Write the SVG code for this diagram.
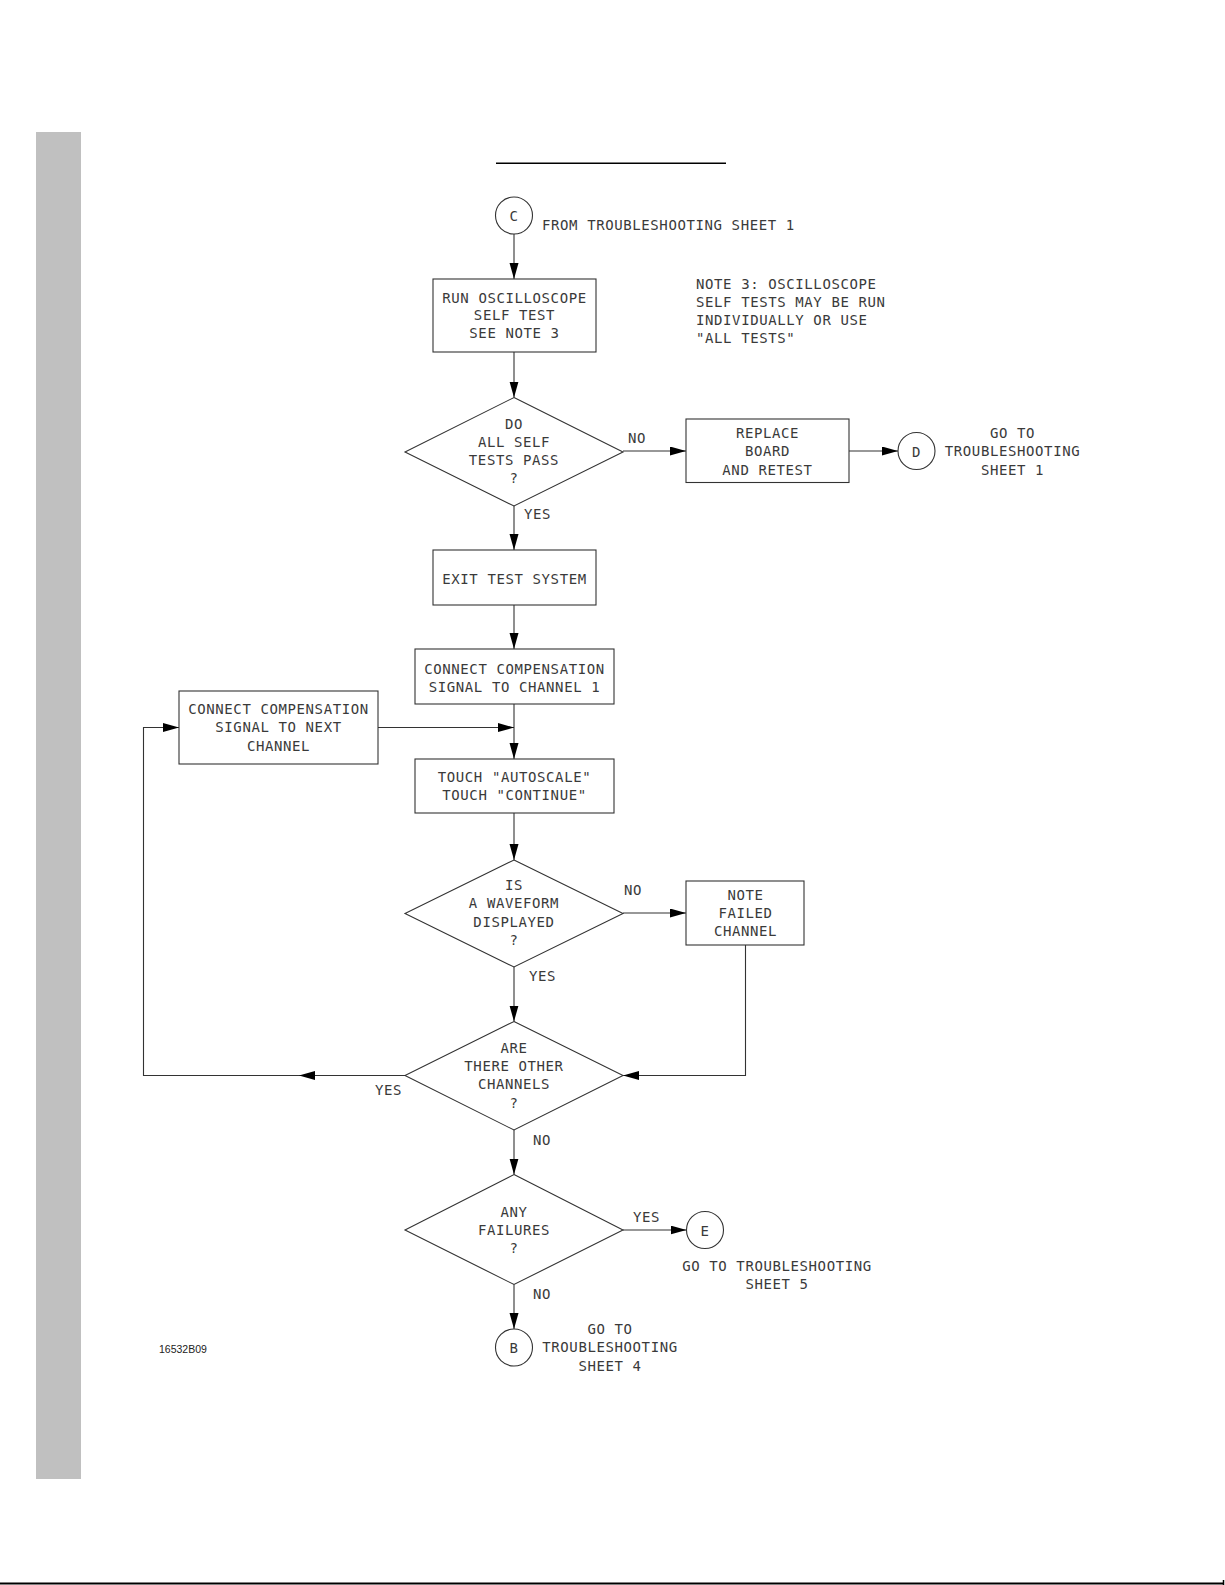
<svg xmlns="http://www.w3.org/2000/svg" width="1225" height="1585" viewBox="0 0 1225 1585">
<style>
.t{font-family:"DejaVu Sans Mono","Liberation Mono",monospace;font-size:14px;letter-spacing:0.6px;fill:#3a3a3a}
.c{text-anchor:middle}
.box{fill:none;stroke:#333;stroke-width:1.1}
.ln{fill:none;stroke:#333;stroke-width:1.1}
.id{font-family:"Liberation Sans",Arial,sans-serif;font-size:10.5px;fill:#222}
</style>
<defs>
<marker id="ah" markerUnits="userSpaceOnUse" markerWidth="17" markerHeight="10" refX="16" refY="4.5" orient="auto">
<path d="M0,0 L16,4.5 L0,9 z" fill="#000"/>
</marker>
</defs>
<rect x="36" y="132" width="45" height="1347" fill="#c0c0c0"/>
<line x1="0" y1="1583.5" x2="1224" y2="1583.5" stroke="#000" stroke-width="2"/>
<line x1="1223.5" y1="1580" x2="1223.5" y2="1585" stroke="#000" stroke-width="1.5"/>
<line x1="496" y1="163.3" x2="726" y2="163.3" stroke="#000" stroke-width="1.4"/>

<g id="connectors">
<line class="ln" x1="514" y1="234" x2="514" y2="279" marker-end="url(#ah)"/>
<line class="ln" x1="514" y1="352" x2="514" y2="397.5" marker-end="url(#ah)"/>
<line class="ln" x1="623" y1="451" x2="686" y2="451" marker-end="url(#ah)"/>
<line class="ln" x1="849" y1="451" x2="898" y2="451" marker-end="url(#ah)"/>
<line class="ln" x1="514" y1="506" x2="514" y2="550" marker-end="url(#ah)"/>
<line class="ln" x1="514" y1="605" x2="514" y2="649" marker-end="url(#ah)"/>
<line class="ln" x1="514" y1="704" x2="514" y2="759" marker-end="url(#ah)"/>
<line class="ln" x1="378" y1="727.5" x2="514" y2="727.5" marker-end="url(#ah)"/>
<line class="ln" x1="514" y1="813" x2="514" y2="860" marker-end="url(#ah)"/>
<line class="ln" x1="623" y1="913" x2="686" y2="913" marker-end="url(#ah)"/>
<line class="ln" x1="514" y1="967" x2="514" y2="1021.5" marker-end="url(#ah)"/>
<polyline class="ln" points="745.5,945 745.5,1075.5 623,1075.5" marker-end="url(#ah)"/>
<line class="ln" x1="405" y1="1075.5" x2="299" y2="1075.5" marker-end="url(#ah)"/>
<polyline class="ln" points="299,1075.5 143.5,1075.5 143.5,727.5 179,727.5" marker-end="url(#ah)"/>
<line class="ln" x1="514" y1="1130" x2="514" y2="1174.5" marker-end="url(#ah)"/>
<line class="ln" x1="623" y1="1230" x2="686.5" y2="1230" marker-end="url(#ah)"/>
<line class="ln" x1="514" y1="1284.5" x2="514" y2="1329" marker-end="url(#ah)"/>
<text class="t" x="628" y="443">NO</text>
<text class="t" x="524" y="519">YES</text>
<text class="t" x="624" y="895">NO</text>
<text class="t" x="529" y="981">YES</text>
<text class="t" x="375" y="1094.5">YES</text>
<text class="t" x="533" y="1145">NO</text>
<text class="t" x="633" y="1222">YES</text>
<text class="t" x="533" y="1299">NO</text>
</g>

<g id="nodeC">
<circle class="box" cx="514" cy="215.5" r="18.5"/>
<text class="t c" x="514" y="221">C</text>
<text class="t" x="542" y="229.5">FROM TROUBLESHOOTING SHEET 1</text>
</g>

<g id="note3">
<text class="t" x="696" y="289">NOTE 3: OSCILLOSCOPE</text>
<text class="t" x="696" y="306.5">SELF TESTS MAY BE RUN</text>
<text class="t" x="696" y="324.5">INDIVIDUALLY OR USE</text>
<text class="t" x="696" y="342.5">"ALL TESTS"</text>
</g>

<g id="runSelfTest">
<rect class="box" x="433" y="279" width="163" height="73"/>
<text class="t c" x="514.5" y="302.5">RUN OSCILLOSCOPE</text>
<text class="t c" x="514.5" y="320">SELF TEST</text>
<text class="t c" x="514.5" y="338">SEE NOTE 3</text>
</g>

<g id="allTestsPass">
<polygon class="box" points="514,397.5 623,452 514,506 405,452"/>
<text class="t c" x="514" y="429">DO</text>
<text class="t c" x="514" y="447">ALL SELF</text>
<text class="t c" x="514" y="465">TESTS PASS</text>
<text class="t c" x="514" y="483">?</text>
</g>

<g id="replaceBoard">
<rect class="box" x="686" y="419" width="163" height="63.5"/>
<text class="t c" x="767.5" y="438">REPLACE</text>
<text class="t c" x="767.5" y="456">BOARD</text>
<text class="t c" x="767.5" y="474.5">AND RETEST</text>
</g>

<g id="nodeD">
<circle class="box" cx="916.5" cy="451" r="18.5"/>
<text class="t c" x="916.5" y="456.5">D</text>
<text class="t c" x="1012.5" y="438">GO TO</text>
<text class="t c" x="1012.5" y="456">TROUBLESHOOTING</text>
<text class="t c" x="1012.5" y="474.5">SHEET 1</text>
</g>

<g id="exitTest">
<rect class="box" x="433" y="550" width="163" height="55"/>
<text class="t c" x="514.5" y="583.5">EXIT TEST SYSTEM</text>
</g>

<g id="connectCh1">
<rect class="box" x="415" y="649" width="199" height="55"/>
<text class="t c" x="514.5" y="673.5">CONNECT COMPENSATION</text>
<text class="t c" x="514.5" y="692">SIGNAL TO CHANNEL 1</text>
</g>

<g id="connectNext">
<rect class="box" x="179" y="691" width="199" height="73"/>
<text class="t c" x="278.5" y="714">CONNECT COMPENSATION</text>
<text class="t c" x="278.5" y="732">SIGNAL TO NEXT</text>
<text class="t c" x="278.5" y="750.5">CHANNEL</text>
</g>

<g id="touchAutoscale">
<rect class="box" x="415" y="759" width="199" height="54"/>
<text class="t c" x="514.5" y="782">TOUCH "AUTOSCALE"</text>
<text class="t c" x="514.5" y="800">TOUCH "CONTINUE"</text>
</g>

<g id="waveformDisplayed">
<polygon class="box" points="514,860 623,913.5 514,967 405,913.5"/>
<text class="t c" x="514" y="890">IS</text>
<text class="t c" x="514" y="908">A WAVEFORM</text>
<text class="t c" x="514" y="926.5">DISPLAYED</text>
<text class="t c" x="514" y="944.5">?</text>
</g>

<g id="noteFailed">
<rect class="box" x="686" y="881" width="118" height="64"/>
<text class="t c" x="745.5" y="900">NOTE</text>
<text class="t c" x="745.5" y="917.5">FAILED</text>
<text class="t c" x="745.5" y="935.5">CHANNEL</text>
</g>

<g id="otherChannels">
<polygon class="box" points="514,1021.5 623,1075.5 514,1130 405,1075.5"/>
<text class="t c" x="514" y="1053">ARE</text>
<text class="t c" x="514" y="1071">THERE OTHER</text>
<text class="t c" x="514" y="1089">CHANNELS</text>
<text class="t c" x="514" y="1107.5">?</text>
</g>

<g id="anyFailures">
<polygon class="box" points="514,1174.5 623,1230 514,1284.5 405,1230"/>
<text class="t c" x="514" y="1217">ANY</text>
<text class="t c" x="514" y="1235">FAILURES</text>
<text class="t c" x="514" y="1253">?</text>
</g>

<g id="nodeE">
<circle class="box" cx="705" cy="1230" r="18.5"/>
<text class="t c" x="705" y="1235.5">E</text>
<text class="t c" x="777" y="1270.5">GO TO TROUBLESHOOTING</text>
<text class="t c" x="777" y="1288.5">SHEET 5</text>
</g>

<g id="nodeB">
<circle class="box" cx="514" cy="1347.5" r="18.5"/>
<text class="t c" x="514" y="1353">B</text>
<text class="t c" x="610" y="1334">GO TO</text>
<text class="t c" x="610" y="1352">TROUBLESHOOTING</text>
<text class="t c" x="610" y="1370.5">SHEET 4</text>
</g>

<text class="id" x="159" y="1353">16532B09</text>
</svg>
